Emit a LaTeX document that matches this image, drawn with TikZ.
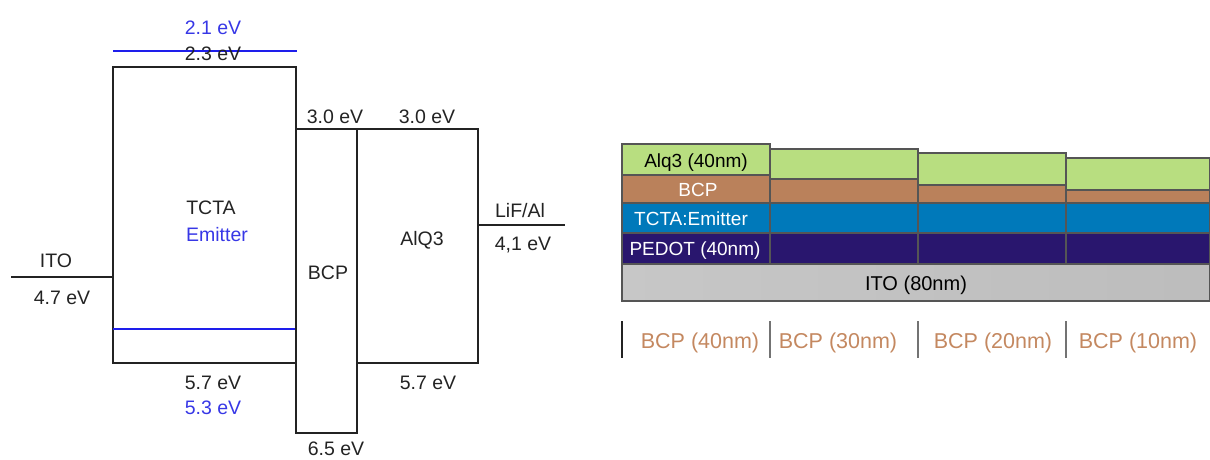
\documentclass[tikz,border=0pt]{standalone}
\usepackage{fontspec}
\setmainfont{Liberation Sans}
\usepackage{tikz}
\usetikzlibrary{positioning}
\definecolor{lineblack}{RGB}{35,35,35}
\definecolor{levelblue}{RGB}{30,30,235}
\definecolor{textblue}{RGB}{55,55,230}
\definecolor{alqgreen}{RGB}{184,222,128}
\definecolor{bcpbrown}{RGB}{186,129,91}
\definecolor{tctablue}{RGB}{0,121,186}
\definecolor{pedotpurple}{RGB}{41,22,110}
\definecolor{edgegray}{RGB}{85,85,85}
\definecolor{labelbrown}{RGB}{196,136,96}

\begin{document}
\begin{tikzpicture}[
    x=1pt, y=-1pt,
    lvl/.style={draw=lineblack, line width=1.9pt},
    bl/.style={draw=levelblue, line width=1.9pt},
    ev/.style={font=\fontsize{19.5}{22}\selectfont, color=lineblack, anchor=base, inner sep=0pt},
    evb/.style={ev, color=textblue},
    layer/.style={draw=edgegray, line width=1.2pt},
    tag/.style={font=\fontsize{19}{22}\selectfont, anchor=base, inner sep=0pt},
    bcptag/.style={font=\fontsize{21.5}{24}\selectfont, color=labelbrown, anchor=base, inner sep=0pt},
    sep/.style={line width=1.3pt}
]
    \useasboundingbox (0,0) rectangle (1210,459);

    % energy levels
    \draw[lvl] (113,67) rectangle (296,363);
    \draw[bl] (113,329) -- (296,329);
    \draw[bl] (113,51) -- (297,51);
    \draw[lvl] (296,129) rectangle (357,433);
    \draw[lvl] (357,129) rectangle (478,363);
    \draw[lvl] (11,277) -- (113,277);
    \draw[lvl] (478,225) -- (565,225);

    \node[evb] (lumoE) at (213,34) {2.1 eV};
    \node[ev] (lumoT) at (213,60) {2.3 eV};
    \node[ev] (lumoB) at (335,123) {3.0 eV};
    \node[ev] (lumoA) at (427,123) {3.0 eV};
    \node[ev] (tcta) at (211,214) {TCTA};
    \node[evb] (emit) at (217,241) {Emitter};
    \node[ev] (ito) at (56,267) {ITO};
    \node[ev] (wfITO) at (62,304) {4.7 eV};
    \node[ev] (bcp) at (328,279) {BCP};
    \node[ev] (alq) at (422,245) {AlQ3};
    \node[ev] (lif) at (520,217) {LiF/Al};
    \node[ev] (wfLiF) at (523,250) {4,1 eV};
    \node[ev] (homoT) at (213,389) {5.7 eV};
    \node[evb] (homoE) at (213,414) {5.3 eV};
    \node[ev] (homoA) at (428,389) {5.7 eV};
    \node[ev] (homoB) at (336,455) {6.5 eV};

    % device stack
    \shade[left color=black!22, middle color=black!12, right color=black!26] (622,264) rectangle (1210,301);
    \draw[layer] (622,264) rectangle (1210,301);
    \draw[layer, fill=pedotpurple] (622,233) rectangle (770,264);
    \draw[layer, fill=pedotpurple] (770,233) rectangle (918,264);
    \draw[layer, fill=pedotpurple] (918,233) rectangle (1066,264);
    \draw[layer, fill=pedotpurple] (1066,233) rectangle (1210,264);
    \draw[layer, fill=tctablue] (622,203) rectangle (770,233);
    \draw[layer, fill=tctablue] (770,203) rectangle (918,233);
    \draw[layer, fill=tctablue] (918,203) rectangle (1066,233);
    \draw[layer, fill=tctablue] (1066,203) rectangle (1210,233);
    \draw[layer, fill=bcpbrown] (622,175) rectangle (770,203);
    \draw[layer, fill=bcpbrown] (770,179) rectangle (918,203);
    \draw[layer, fill=bcpbrown] (918,185) rectangle (1066,203);
    \draw[layer, fill=bcpbrown] (1066,190) rectangle (1210,203);
    \draw[layer, fill=alqgreen] (622,144) rectangle (770,175);
    \draw[layer, fill=alqgreen] (770,149) rectangle (918,179);
    \draw[layer, fill=alqgreen] (918,153) rectangle (1066,185);
    \draw[layer, fill=alqgreen] (1066,158) rectangle (1210,190);

    \node[tag] (sAlq) at (696,167) {Alq3 (40nm)};
    \node[tag, color=white] (sBcp) at (698,196) {BCP};
    \node[tag, color=white] (sTcta) at (691,225) {TCTA:Emitter};
    \node[tag, color=white] (sPedot) at (695,255) {PEDOT (40nm)};
    \node[tag, font=\fontsize{20}{22}\selectfont] (sIto) at (916,290) {ITO (80nm)};

    \draw[sep, lineblack] (622,321) -- (622,358);
    \draw[sep, black!55] (770,321) -- (770,358);
    \draw[sep, black!55] (918,321) -- (918,358);
    \draw[sep, black!55] (1066,321) -- (1066,358);
    \node[bcptag] (t40) at (700,348) {BCP (40nm)};
    \node[bcptag] (t30) at (838,348) {BCP (30nm)};
    \node[bcptag] (t20) at (993,348) {BCP (20nm)};
    \node[bcptag] (t10) at (1138,348) {BCP (10nm)};
\end{tikzpicture}
\end{document}
